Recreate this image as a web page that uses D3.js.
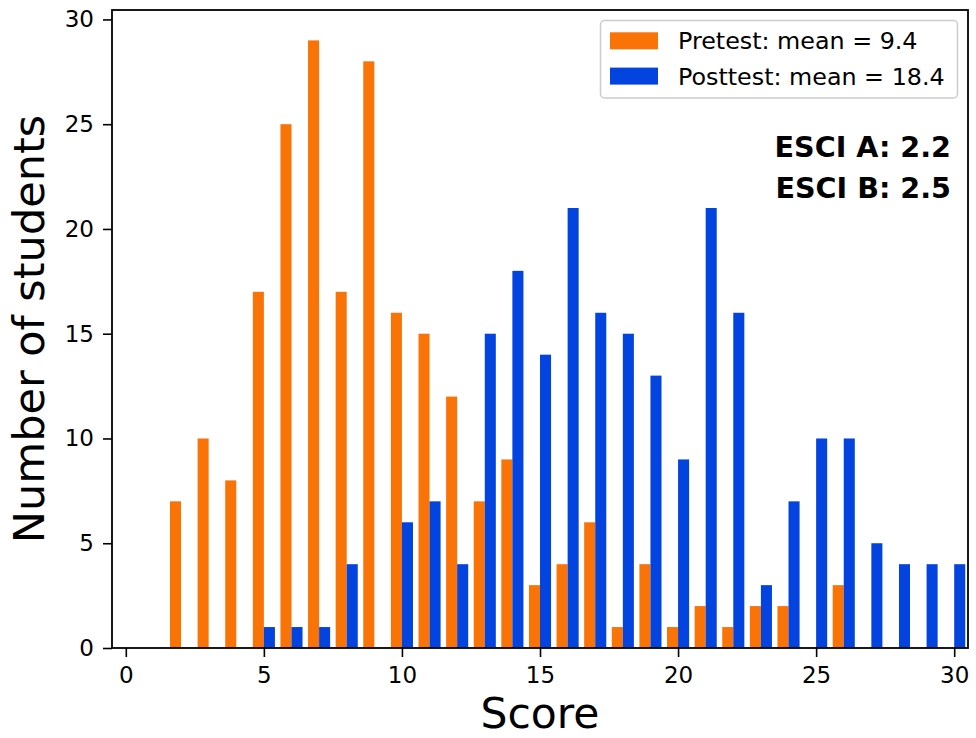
<!DOCTYPE html>
<html>
<head>
<meta charset="utf-8">
<script src="https://cdn.jsdelivr.net/npm/d3@7"></script>
<style>
  html, body { margin: 0; padding: 0; background: #fff; }
  svg text { font-family: "DejaVu Sans", sans-serif; }
</style>
</head>
<body>
<svg id="chart" width="976" height="738"></svg>
<script>
// ---- data ----
const scores = d3.range(0, 31);
const pretest  = [0,0,7,10,8,17,25,29,17,28,16,15,12,7,9,3,4,6,1,4,1,2,1,2,2,0,3,0,0,0,0];
const posttest = [0,0,0,0,0,1,1,1,4,0,6,7,4,15,18,14,21,16,15,13,9,21,16,3,7,10,10,5,4,4,4];
const seriesNames = ["Pretest: mean = 9.4", "Posttest: mean = 18.4"];
const xTicks = [0,5,10,15,20,25,30];
const yTicks = [0,5,10,15,20,25,30];
const annotations = ["ESCI A: 2.2", "ESCI B: 2.5"];
const colors = ["#f97306", "#0343df"];

(function () {
const svg = d3.select("#chart");
const pL = 112, pR = 968, pT = 10, pB = 648;
const x = d3.scaleLinear().domain([-0.5, 30.5]).range([pL, pR]);
const y = d3.scaleLinear().domain([0, 30.45]).range([pB, pT]);
const barW = 0.4;

const series = [pretest, posttest];
series.forEach((vals, si) => {
  svg.append("g").selectAll("rect")
    .data(scores.filter(s => vals[s] > 0))
    .join("rect")
    .attr("x", s => si === 0 ? x(s - barW) : x(s))
    .attr("width", s => x(s + barW) - x(s))
    .attr("y", s => y(vals[s]))
    .attr("height", s => y(0) - y(vals[s]))
    .attr("fill", colors[si]);
});

// axes
const xAxis = svg.append("g").attr("transform", `translate(0,${pB})`)
  .call(d3.axisBottom(x).tickValues(xTicks).tickSize(9).tickPadding(9).tickFormat(d3.format("d")));
const yAxis = svg.append("g").attr("transform", `translate(${pL},0)`)
  .call(d3.axisLeft(y).tickValues(yTicks).tickSize(9).tickPadding(9).tickFormat(d3.format("d")));
[xAxis, yAxis].forEach(g => {
  g.select(".domain").remove();
  g.selectAll(".tick line").attr("stroke", "#000").attr("stroke-width", 1.6);
  g.selectAll(".tick text").attr("fill", "#000").style("font-size", "23px").style("font-family", "DejaVu Sans");
});
xAxis.selectAll(".tick text").attr("dy", "0.72em");

// frame
svg.append("rect").attr("x", pL).attr("y", pT)
  .attr("width", pR - pL).attr("height", pB - pT)
  .attr("fill", "none").attr("stroke", "#000").attr("stroke-width", 1.8);

// axis labels
svg.append("text").attr("x", (pL + pR) / 2).attr("y", 728)
  .attr("text-anchor", "middle").style("font-size", "42.5px").text("Score");
svg.append("text").attr("transform", `translate(44,${(pT + pB) / 2}) rotate(-90)`)
  .attr("text-anchor", "middle").style("font-size", "43px").text("Number of students");

// legend
const lg = svg.append("g");
lg.append("rect").attr("x", 600.5).attr("y", 20.5).attr("width", 357).attr("height", 77.5)
  .attr("rx", 4).attr("fill", "#fff").attr("fill-opacity", 0.8)
  .attr("stroke", "#cccccc").attr("stroke-width", 1.5);
seriesNames.forEach((name, i) => {
  lg.append("rect").attr("x", 610).attr("y", 32.3 + i * 35.3).attr("width", 48).attr("height", 17)
    .attr("fill", colors[i]);
  lg.append("text").attr("x", 678).attr("y", 49.3 + i * 35.3)
    .style("font-size", "23.8px").attr("fill", "#000").text(name);
});

// annotations
annotations.forEach((t, i) => {
  svg.append("text").attr("x", 951).attr("y", 157 + i * 41)
    .attr("text-anchor", "end").style("font-size", "28.6px").style("font-weight", "bold")
    .attr("fill", "#000").text(t);
});
})();
</script>
</body>
</html>
